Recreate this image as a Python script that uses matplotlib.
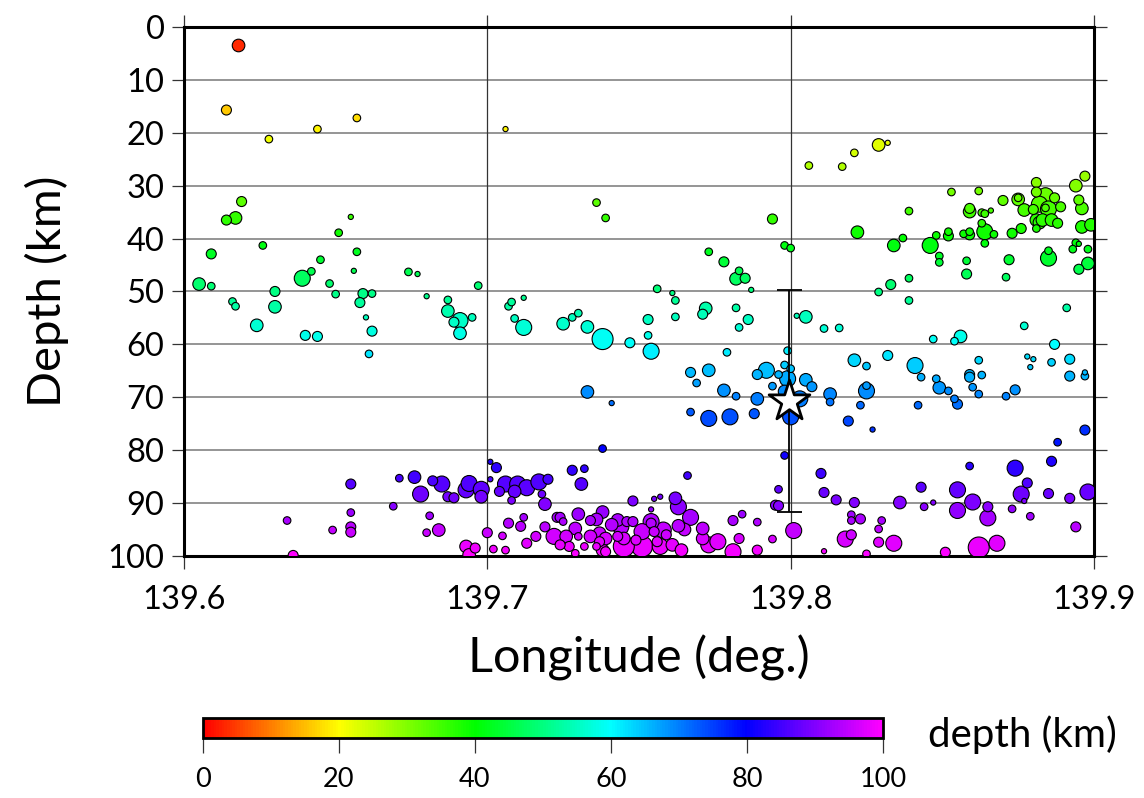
import numpy as np
import matplotlib
matplotlib.use("Agg")
import matplotlib.pyplot as plt
from matplotlib.colors import LinearSegmentedColormap, Normalize
from matplotlib.colorbar import ColorbarBase

plt.rcParams['font.family'] = ['Lato', 'DejaVu Sans']

# hypocentres: longitude (deg), depth (km), magnitude class (1 = smallest)
lon = [
    139.618, 139.614, 139.628, 139.644, 139.657, 139.706, 139.619, 139.614, 139.617, 139.655,
    139.651, 139.626, 139.609, 139.657, 139.645, 139.656, 139.642, 139.639, 139.674, 139.677,
    139.648, 139.605, 139.609, 139.697, 139.630, 139.650, 139.659, 139.662, 139.616, 139.617,
    139.630, 139.658, 139.680, 139.687, 139.687, 139.691, 139.689, 139.691, 139.695, 139.624,
    139.660, 139.662, 139.640, 139.644, 139.661,
    139.736, 139.739, 139.707, 139.708, 139.712, 139.709, 139.712, 139.725, 139.728, 139.730,
    139.733, 139.738, 139.747, 139.753, 139.753, 139.754, 139.756, 139.761, 139.762, 139.762,
    139.772, 139.771, 139.782, 139.786, 139.783, 139.787, 139.802, 139.794, 139.798, 139.800,
    139.773, 139.778, 139.783, 139.782, 139.785,
    139.779, 139.767, 139.773, 139.769, 139.778, 139.782, 139.789, 139.788, 139.792, 139.789,
    139.794, 139.799, 139.798, 139.800, 139.796, 139.799, 139.798, 139.800, 139.733, 139.741,
    139.767, 139.773, 139.780, 139.738, 139.798, 139.803, 139.805, 139.807, 139.813, 139.813,
    139.825, 139.825, 139.823, 139.819, 139.827, 139.805, 139.811, 139.816, 139.821, 139.825,
    139.832, 139.841, 139.843, 139.848, 139.849, 139.852, 139.854, 139.855, 139.842, 139.847,
    139.854, 139.856, 139.877, 139.891, 139.887, 139.862, 139.863, 139.859, 139.859, 139.860,
    139.862, 139.871, 139.874, 139.878, 139.880, 139.879, 139.886, 139.892, 139.892, 139.897,
    139.897, 139.897, 139.888,
    139.833, 139.829, 139.839, 139.829, 139.832, 139.821, 139.817, 139.806, 139.853, 139.862,
    139.839, 139.822, 139.837, 139.834, 139.846, 139.848, 139.849, 139.849, 139.852, 139.852,
    139.857, 139.859, 139.859, 139.864, 139.864, 139.867, 139.863, 139.859, 139.859, 139.863,
    139.864, 139.866, 139.870, 139.873, 139.876, 139.875, 139.875, 139.877, 139.880, 139.881,
    139.881, 139.884, 139.887, 139.882, 139.884, 139.885, 139.889, 139.881, 139.882, 139.883,
    139.886, 139.888, 139.881, 139.894, 139.897, 139.895, 139.896, 139.896, 139.899, 139.894,
    139.895, 139.893, 139.898, 139.885, 139.885, 139.895, 139.898, 139.872, 139.871, 139.858,
    139.858, 139.839,
    139.655, 139.671, 139.676, 139.682, 139.685, 139.678, 139.687, 139.689, 139.693, 139.694,
    139.698, 139.698, 139.701, 139.701, 139.669, 139.655, 139.634, 139.681, 139.655, 139.655,
    139.649, 139.680, 139.684, 139.700, 139.636, 139.693, 139.696, 139.694, 139.703, 139.706,
    139.710, 139.704, 139.709, 139.713, 139.717, 139.720, 139.718, 139.708, 139.719, 139.707,
    139.711, 139.712, 139.705, 139.713, 139.716, 139.719, 139.722, 139.723, 139.702, 139.706,
    139.728, 139.732, 139.731, 139.766, 139.796, 139.795, 139.796, 139.748, 139.755, 139.757,
    139.754, 139.762, 139.763, 139.767, 139.784, 139.781, 139.789, 139.801, 139.794, 139.789,
    139.781, 139.783, 139.773, 139.776, 139.771, 139.771, 139.765, 139.761, 139.763, 139.758,
    139.757, 139.751, 139.754, 139.751, 139.744, 139.745, 139.743, 139.738, 139.736, 139.734,
    139.737, 139.734, 139.736, 139.738, 139.739, 139.730, 139.724, 139.725, 139.729, 139.726,
    139.730, 139.727, 139.724, 139.732, 139.729, 139.745, 139.746, 139.748, 139.749, 139.754,
    139.755, 139.756, 139.759, 139.764, 139.741, 139.743, 139.737, 139.739,
    139.810, 139.811, 139.815, 139.821, 139.820, 139.820, 139.823, 139.830, 139.829, 139.829,
    139.834, 139.818, 139.820, 139.825, 139.811, 139.836, 139.843, 139.844, 139.847, 139.855,
    139.855, 139.859, 139.860, 139.865, 139.865, 139.873, 139.874, 139.878, 139.876, 139.877,
    139.879, 139.886, 139.885, 139.892, 139.898, 139.894, 139.868, 139.862, 139.851,
]
depth = [
    3.5, 15.7, 21.2, 19.3, 17.2, 19.3, 33.0, 36.5, 36.1, 35.9,
    38.9, 41.3, 42.9, 42.5, 44.0, 46.1, 46.2, 47.5, 46.3, 46.7,
    48.5, 48.6, 49.0, 48.9, 50.0, 50.5, 50.4, 50.4, 51.9, 52.8,
    52.9, 52.1, 50.9, 51.6, 53.7, 55.5, 55.8, 57.9, 54.9, 56.4,
    54.9, 57.5, 58.3, 58.5, 61.8,
    33.2, 36.1, 52.8, 52.0, 51.2, 55.1, 56.8, 56.1, 54.9, 54.1,
    56.7, 59.0, 59.7, 55.3, 58.3, 61.3, 49.5, 50.3, 51.7, 54.8,
    53.2, 54.3, 53.1, 55.3, 56.8, 49.7, 54.6, 36.3, 41.3, 41.8,
    42.5, 44.4, 46.1, 47.6, 47.5,
    61.5, 65.3, 64.9, 67.3, 68.7, 69.8, 70.3, 73.1, 64.9, 65.7,
    67.9, 61.2, 63.9, 64.6, 65.7, 66.5, 68.9, 73.7, 69.0, 71.1,
    72.8, 74.0, 73.7, 79.7, 81.0, 70.3, 66.7, 68.0, 69.4, 70.9,
    68.8, 67.8, 71.5, 74.5, 76.1, 54.8, 57.0, 56.9, 63.0, 64.1,
    62.1, 64.0, 66.2, 66.5, 68.2, 68.8, 70.3, 71.3, 71.5, 59.0,
    59.4, 58.5, 56.5, 53.1, 60.0, 63.0, 65.8, 65.7, 66.2, 68.1,
    69.4, 69.8, 68.6, 62.3, 62.8, 64.3, 63.4, 62.8, 66.0, 65.3,
    66.0, 76.2, 78.5,
    48.7, 50.1, 51.7, 22.3, 21.9, 23.8, 26.4, 26.2, 31.2, 31.0,
    34.8, 38.8, 39.9, 41.3, 41.3, 39.4, 43.3, 44.5, 39.5, 38.7,
    39.1, 39.3, 38.7, 40.9, 38.7, 39.2, 37.1, 34.3, 34.9, 35.1,
    35.3, 34.7, 32.8, 39.0, 38.1, 32.3, 32.6, 34.6, 34.5, 29.4,
    31.2, 31.9, 32.3, 33.5, 34.2, 34.4, 34.0, 36.5, 37.0, 36.5,
    36.5, 37.1, 38.1, 30.0, 28.2, 32.7, 34.3, 37.8, 37.4, 40.8,
    41.0, 42.0, 42.0, 42.3, 43.7, 45.8, 44.7, 44.0, 47.3, 44.2,
    46.7, 47.5,
    86.4, 85.3, 85.1, 85.8, 86.4, 88.3, 88.8, 89.0, 87.5, 86.3,
    87.4, 88.8, 82.2, 85.5, 90.6, 91.8, 93.3, 92.4, 94.5, 95.5,
    95.1, 95.6, 95.1, 95.6, 99.9, 98.2, 98.5, 99.8, 83.3, 86.4,
    86.4, 87.8, 87.8, 87.1, 86.0, 85.5, 88.3, 89.5, 90.2, 93.8,
    94.4, 92.7, 96.2, 97.6, 96.3, 94.5, 96.3, 92.7, 98.7, 98.9,
    83.8, 83.5, 86.4, 84.8, 87.4, 90.4, 90.5, 89.6, 89.2, 88.8,
    91.2, 89.1, 90.7, 92.7, 92.1, 93.3, 93.6, 95.2, 96.8, 98.9,
    99.2, 96.7, 97.9, 97.3, 96.7, 94.8, 95.0, 97.9, 94.3, 95.1,
    98.2, 98.2, 93.5, 95.4, 94.5, 98.2, 93.2, 91.7, 93.1, 93.3,
    95.7, 96.3, 98.2, 98.9, 96.7, 92.1, 92.7, 93.5, 94.8, 96.3,
    96.3, 98.2, 97.9, 98.2, 99.5, 96.7, 93.5, 93.5, 97.0, 93.8,
    95.4, 97.3, 96.0, 98.9, 94.1, 96.3, 97.3, 99.2,
    84.4, 88.0, 89.4, 89.9, 92.2, 93.3, 93.0, 93.3, 94.9, 97.4,
    97.6, 96.8, 96.0, 99.6, 99.1, 89.9, 87.0, 90.7, 89.9, 87.5,
    91.4, 83.0, 89.8, 90.7, 92.8, 91.1, 83.4, 86.2, 88.3, 89.6,
    92.5, 82.1, 88.2, 89.1, 87.9, 94.5, 97.6, 98.4, 99.3,
]
mag = [
    4, 3, 2, 2, 2, 1, 3, 3, 4, 1,
    2, 2, 3, 2, 2, 1, 2, 5, 2, 1,
    2, 4, 2, 2, 3, 2, 3, 2, 2, 2,
    4, 3, 1, 2, 4, 5, 3, 4, 2, 4,
    1, 3, 3, 3, 2,
    2, 2, 2, 2, 1, 2, 5, 4, 2, 2,
    4, 6, 3, 3, 2, 5, 2, 1, 2, 2,
    4, 3, 2, 3, 2, 1, 1, 3, 2, 2,
    2, 3, 2, 4, 3,
    2, 3, 4, 2, 4, 2, 4, 3, 5, 3,
    2, 2, 2, 2, 2, 5, 4, 5, 4, 1,
    2, 5, 5, 2, 2, 5, 4, 3, 4, 2,
    5, 2, 2, 3, 1, 4, 2, 2, 4, 2,
    3, 5, 2, 2, 4, 2, 2, 3, 2, 2,
    2, 4, 2, 2, 3, 2, 2, 3, 3, 2,
    2, 2, 3, 1, 1, 1, 2, 3, 3, 1,
    2, 3, 2,
    3, 2, 2, 4, 1, 2, 2, 2, 2, 2,
    2, 4, 2, 4, 5, 2, 2, 2, 3, 2,
    2, 3, 2, 2, 5, 2, 2, 3, 4, 2,
    2, 1, 3, 3, 3, 2, 4, 4, 3, 3,
    3, 5, 3, 5, 2, 5, 3, 4, 4, 4,
    4, 3, 2, 4, 3, 3, 4, 4, 4, 2,
    1, 2, 2, 2, 5, 3, 4, 3, 2, 2,
    3, 2,
    3, 2, 4, 3, 5, 5, 3, 3, 5, 5,
    5, 4, 1, 1, 2, 2, 2, 2, 3, 3,
    2, 2, 4, 3, 3, 4, 3, 4, 3, 5,
    5, 3, 4, 5, 5, 3, 2, 2, 4, 3,
    3, 2, 2, 3, 3, 3, 5, 3, 2, 2,
    3, 2, 4, 2, 2, 3, 3, 3, 1, 1,
    1, 4, 5, 5, 2, 3, 2, 5, 2, 3,
    5, 3, 5, 5, 4, 4, 4, 4, 4, 5,
    5, 6, 5, 5, 5, 6, 4, 4, 4, 3,
    4, 4, 2, 4, 4, 4, 3, 2, 4, 4,
    2, 3, 3, 2, 2, 4, 3, 3, 3, 3,
    3, 3, 3, 4, 4, 3, 3, 3,
    3, 3, 3, 3, 2, 2, 3, 2, 2, 3,
    5, 5, 3, 2, 1, 4, 3, 2, 1, 5,
    5, 2, 5, 3, 5, 2, 5, 3, 5, 1,
    2, 3, 3, 3, 5, 3, 5, 6, 3,
]

# main shock and its depth uncertainty
star_lon = 139.7995
star_depth = 70.7
star_depth_err = 21.0

lon_ticks = [139.6, 139.7, 139.8, 139.9]
depth_ticks = [0, 10, 20, 30, 40, 50, 60, 70, 80, 90, 100]
cbar_ticks = [0, 20, 40, 60, 80, 100]

# rainbow palette: red -> yellow -> green -> cyan -> blue -> magenta
cmap = LinearSegmentedColormap.from_list(
    "depth_rainbow",
    [(0.0, (1, 0, 0)), (0.2, (1, 1, 0)), (0.4, (0, 1, 0)),
     (0.6, (0, 1, 1)), (0.8, (0, 0, 1)), (1.0, (1, 0, 1))])
norm = Normalize(0, 100)

lon_a = np.array(lon)
dep_a = np.array(depth)
mag_a = np.array(mag)
radius_px = np.array([0, 2.6, 3.8, 5.0, 6.3, 8.0, 10.5])[mag_a]
sizes = (2 * radius_px * 72 / 100) ** 2
order = np.argsort(-mag_a, kind="stable")

fig = plt.figure(figsize=(11.44, 7.98), dpi=100)
ax = fig.add_axes([0.1608, 0.3033, 0.7955, 0.6629])

ax.set_xlim(139.6, 139.9)
ax.set_ylim(100, 0)
ax.set_xticks(lon_ticks)
ax.set_xticklabels([f"{v:.1f}" for v in lon_ticks])
ax.set_yticks(depth_ticks)

for d in depth_ticks[1:-1]:
    ax.axhline(d, color="#8c8c8c", lw=1.3, zorder=1)
for x in lon_ticks[1:-1]:
    ax.axvline(x, color="#333333", lw=0.9, zorder=1)

ax.scatter(lon_a[order], dep_a[order], s=sizes[order], c=dep_a[order],
           cmap=cmap, norm=norm, edgecolors="black", linewidths=0.8, zorder=3)

ax.errorbar([star_lon], [star_depth], yerr=star_depth_err, fmt="none",
            ecolor="black", elinewidth=1.3, capsize=9, capthick=1.3, zorder=4)
ax.scatter([star_lon], [star_depth], marker="*", s=950, facecolor="white",
           edgecolors="black", linewidths=2.0, zorder=5)

for sp in ax.spines.values():
    sp.set_linewidth(2.2)
ax.tick_params(axis="both", direction="out", length=9, width=0.9,
               top=True, right=True, labelsize=23.5, color="#333333")
ax.tick_params(axis="x", pad=12)
ax.tick_params(axis="y", pad=5)

ax.set_xlabel("Longitude (deg.)", fontsize=35, labelpad=14)
ax.set_ylabel("Depth (km)", fontsize=34, labelpad=28)

cax = fig.add_axes([0.1774, 0.0752, 0.5944, 0.025])
cb = ColorbarBase(cax, cmap=cmap, norm=norm, orientation="horizontal",
                  ticks=cbar_ticks)
cb.outline.set_linewidth(2.0)
cax.tick_params(direction="out", length=11, width=0.9, labelsize=19.5,
                pad=10, color="#333333")
fig.text(0.811, 0.079, "depth (km)", fontsize=29, va="center", ha="left")

fig.savefig("out.png", dpi=100)
